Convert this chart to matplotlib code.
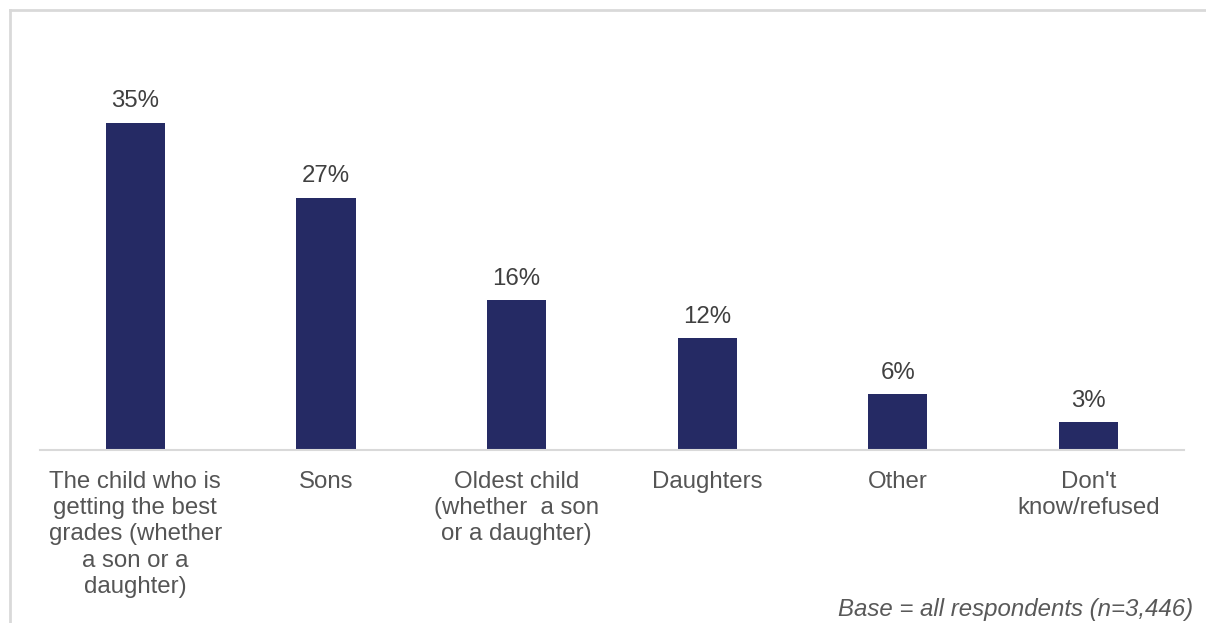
import matplotlib.pyplot as plt
from matplotlib.lines import Line2D

plt.rcParams['font.family'] = ['Liberation Sans', 'DejaVu Sans']

categories = ["The child who is\ngetting the best\ngrades (whether\na son or a\ndaughter)",
              "Sons",
              "Oldest child\n(whether  a son\nor a daughter)",
              "Daughters",
              "Other",
              "Don't\nknow/refused"]
values = [35, 27, 16, 12, 6, 3]
note = "Base = all respondents (n=3,446)"

BAR = '#252A64'
TXT = '#404040'
GRID = '#D9D9D9'
FS = 17.3

fig = plt.figure(figsize=(12.06, 6.23), dpi=100)
ax = fig.add_axes([0.0332, 0.2777, 0.9484, 0.6003])

x = range(len(values))
bars = ax.bar(x, values, width=0.31, color=BAR)
for b, v in zip(bars, values):
    ax.annotate(f"{v}%", (b.get_x() + b.get_width() / 2, v),
                xytext=(0, 11), textcoords='offset points',
                ha='center', va='baseline', fontsize=FS, color=TXT)

ax.set_xlim(-0.5, 5.5)
ax.set_ylim(0, 40)
ax.set_xticks(list(x))
ax.set_xticklabels(categories, fontsize=FS, color='#555555', linespacing=1.25)
ax.tick_params(axis='x', length=0, pad=15)
ax.set_yticks([])
for s in ['top', 'right', 'left']:
    ax.spines[s].set_visible(False)
ax.spines['bottom'].set_color(GRID)
ax.spines['bottom'].set_linewidth(1.5)

fig.text(0.989, 1 - 616 / 623, note, ha='right', va='baseline', fontsize=FS,
         style='italic', color='#595959')

# light frame on top and left like the source slide
fig.add_artist(Line2D([10 / 1206, 1.0], [1 - 10 / 623] * 2,
                      transform=fig.transFigure, color=GRID, lw=2))
fig.add_artist(Line2D([10 / 1206] * 2, [0, 1 - 10 / 623],
                      transform=fig.transFigure, color=GRID, lw=2))

fig.savefig('out.png', dpi=100)
